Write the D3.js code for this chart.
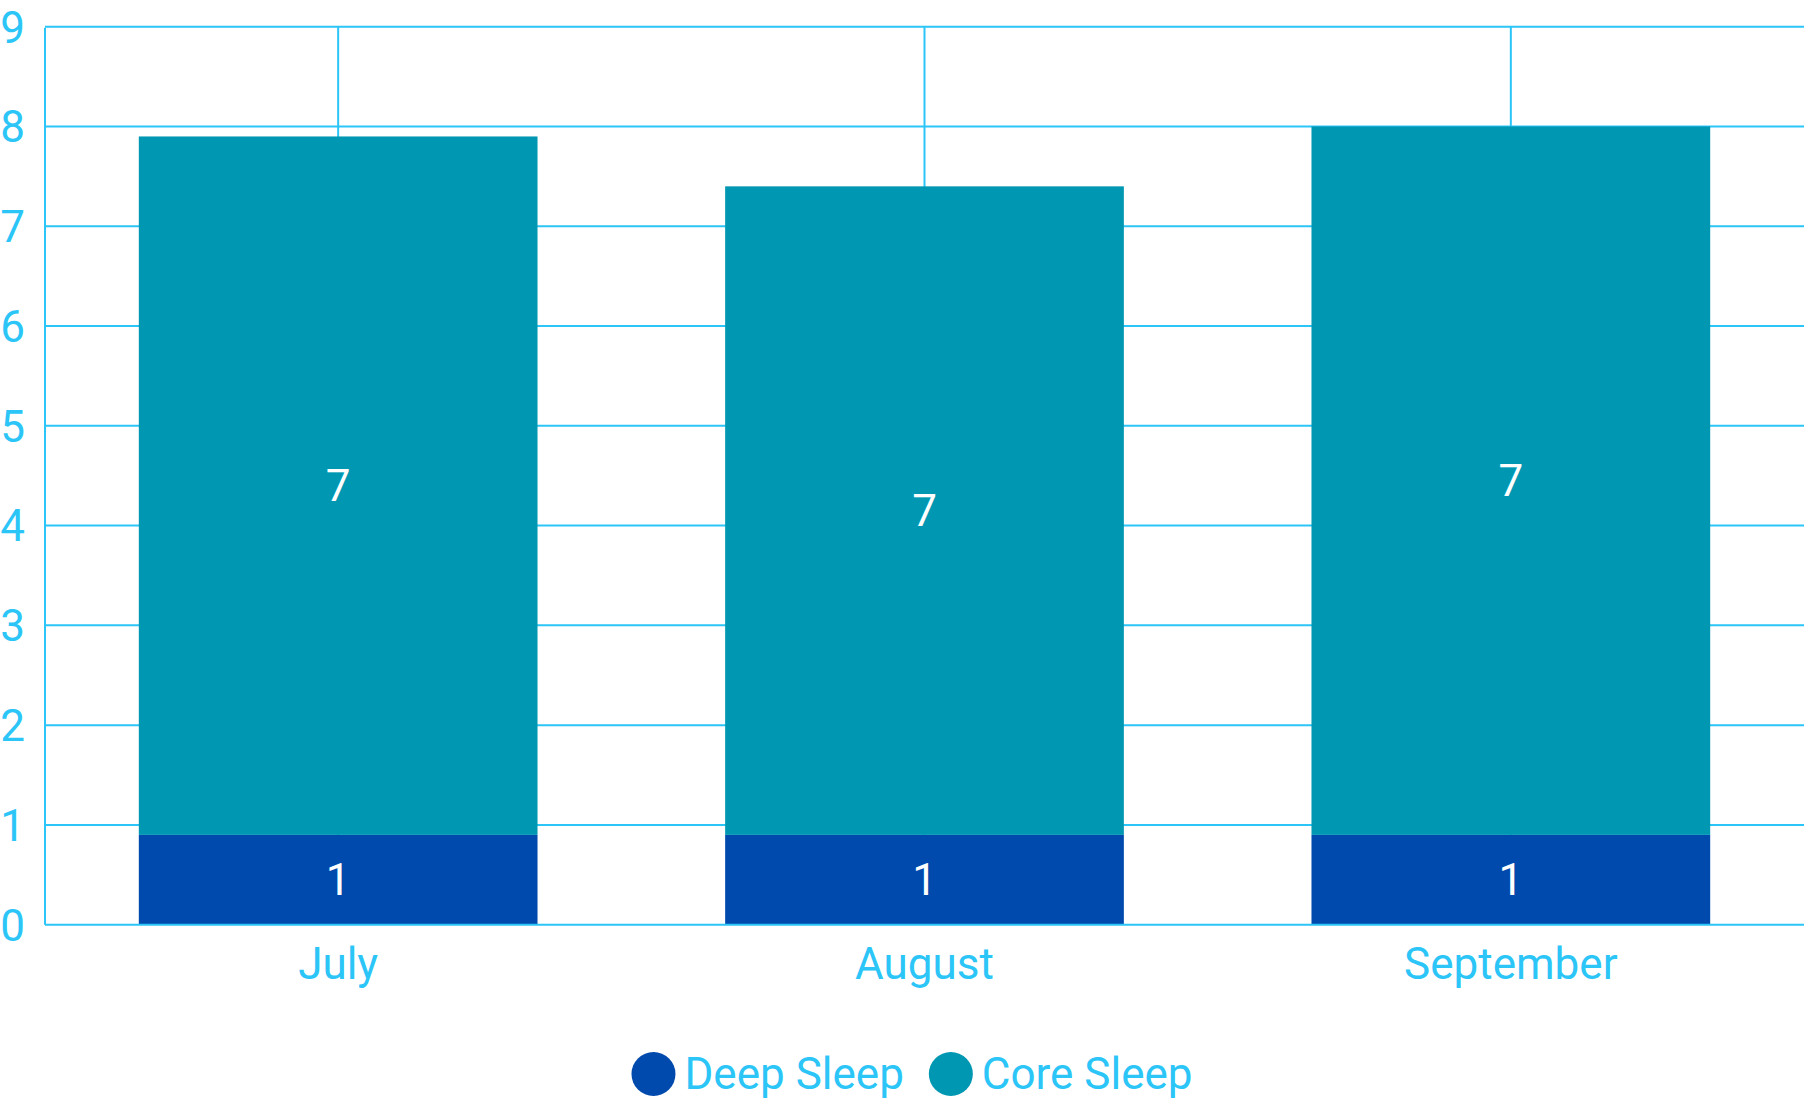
<!DOCTYPE html>
<html>
<head>
<meta charset="utf-8">
<script src="https://cdn.jsdelivr.net/npm/d3@7"></script>
<style>
  html, body { margin: 0; padding: 0; background: #ffffff; }
  svg { display: block; }
  text { font-family: Roboto, "Noto Sans", sans-serif; }
</style>
</head>
<body>
<svg id="chart" width="1804" height="1108"></svg>
<script>
// ---- Data ----
const categories = ["July", "August", "September"];
const deepSleep = [0.9, 0.9, 0.9];
const coreSleep = [7.0, 6.5, 7.1];
const seriesNames = ["Deep Sleep", "Core Sleep"];
const yTicks = [0, 1, 2, 3, 4, 5, 6, 7, 8, 9];

// ---- Styles ----
const colors = { "Deep Sleep": "#004aad", "Core Sleep": "#0097b2" };
const gridColor = "#2bc5f7";
const labelColor = "#2bc5f7";
const fontSize = 44;

const W = 1804, H = 1108;
const plot = { left: 45, right: 1804, top: 26.7, bottom: 924.7 };

const svg = d3.select("#chart");

const rows = categories.map((c, i) => ({ category: c, "Deep Sleep": deepSleep[i], "Core Sleep": coreSleep[i] }));
const stacked = d3.stack().keys(seriesNames)(rows);

const x = d3.scaleBand().domain(categories).range([plot.left, plot.right]).paddingInner(0.32).paddingOuter(0.16);
const y = d3.scaleLinear().domain([0, 9]).range([plot.bottom, plot.top]);
const xc = d => x(d) + x.bandwidth() / 2;

// horizontal gridlines
svg.append("g").selectAll("line").data(yTicks.filter(t => t > 0)).join("line")
  .attr("x1", plot.left).attr("x2", plot.right)
  .attr("y1", d => y(d)).attr("y2", d => y(d))
  .attr("stroke", gridColor).attr("stroke-width", 2);

// vertical gridlines at category centres
svg.append("g").selectAll("line").data(categories).join("line")
  .attr("x1", d => xc(d)).attr("x2", d => xc(d))
  .attr("y1", y(9)).attr("y2", plot.bottom)
  .attr("stroke", gridColor).attr("stroke-width", 2);

// bars
const layer = svg.append("g").selectAll("g").data(stacked).join("g")
  .attr("fill", d => colors[d.key]);
layer.selectAll("rect").data(d => d).join("rect")
  .attr("x", d => x(d.data.category))
  .attr("width", x.bandwidth())
  .attr("y", d => y(d[1]))
  .attr("height", d => y(d[0]) - y(d[1]));

// value labels
const labels = svg.append("g");
stacked.forEach(s => {
  s.forEach(d => {
    labels.append("text")
      .attr("x", xc(d.data.category))
      .attr("y", (y(d[0]) + y(d[1])) / 2)
      .attr("dy", "0.35em")
      .attr("text-anchor", "middle")
      .attr("fill", "#ffffff")
      .attr("font-size", fontSize)
      .text(Math.round(d[1] - d[0]));
  });
});

// axes lines
svg.append("line").attr("x1", plot.left).attr("x2", plot.left).attr("y1", y(9) + 1).attr("y2", plot.bottom)
  .attr("stroke", gridColor).attr("stroke-width", 2);
svg.append("line").attr("x1", plot.left).attr("x2", plot.right).attr("y1", plot.bottom).attr("y2", plot.bottom)
  .attr("stroke", gridColor).attr("stroke-width", 2);

// y tick labels
const yAxis = d3.axisLeft(y).tickValues(yTicks).tickSize(0).tickPadding(0).tickFormat(d3.format("d"));
const yg = svg.append("g").attr("transform", `translate(${plot.left - 20},0)`).call(yAxis);
yg.select(".domain").remove();
yg.selectAll("text").attr("fill", labelColor).attr("font-size", fontSize)
  .attr("font-family", "Roboto, 'Noto Sans', sans-serif").attr("dy", "0.35em");

// x tick labels
const xAxis = d3.axisBottom(x).tickSize(0).tickPadding(0);
const xg = svg.append("g").attr("transform", `translate(0,${plot.bottom})`).call(xAxis);
xg.select(".domain").remove();
xg.selectAll("text").attr("fill", labelColor).attr("font-size", fontSize)
  .attr("font-family", "Roboto, 'Noto Sans', sans-serif").attr("dy", null).attr("y", 54);

// legend
const legendY = 1074;
const r = 22;
const legend = svg.append("g");
const items = seriesNames.map(name => {
  const g = legend.append("g");
  g.append("circle").attr("cx", r).attr("cy", legendY).attr("r", r).attr("fill", colors[name]);
  const t = g.append("text").attr("x", 2 * r + 9).attr("y", legendY).attr("dy", "0.35em")
    .attr("fill", labelColor).attr("font-size", fontSize).text(name);
  const w = 2 * r + 9 + t.node().getComputedTextLength();
  return { g, w };
});
const gap = 25;
const total = d3.sum(items, d => d.w) + gap * (items.length - 1);
let cx = 912 - total / 2;
items.forEach(it => { it.g.attr("transform", `translate(${cx},0)`); cx += it.w + gap; });
</script>
</body>
</html>
